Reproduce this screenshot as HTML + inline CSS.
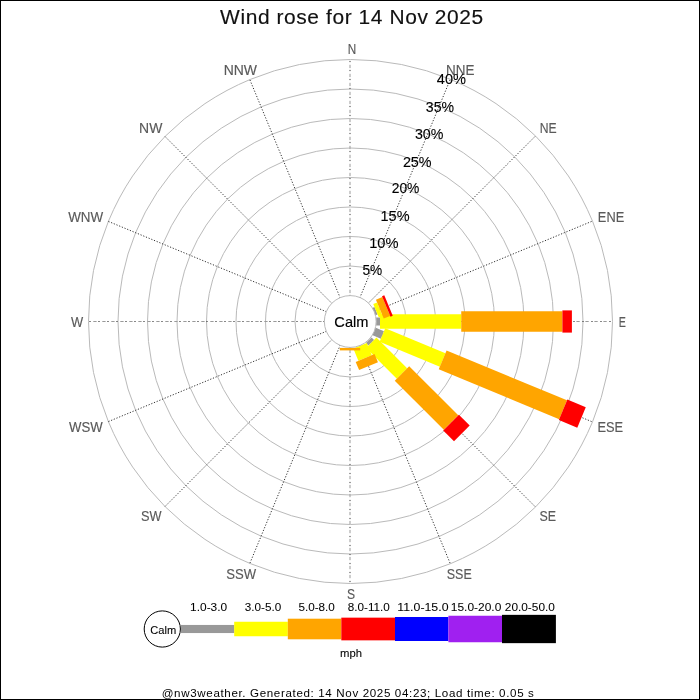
<!DOCTYPE html><html><head><meta charset="utf-8"><style>html,body{margin:0;padding:0;background:#fff;}svg{display:block;will-change:transform;}text{font-family:"Liberation Sans",sans-serif;}</style></head><body>
<svg width="700" height="700" viewBox="0 0 700 700">
<rect x="0" y="0" width="700" height="700" fill="#fff"/>
<circle cx="350.5" cy="321.5" r="55.50" fill="none" stroke="#bababa" stroke-width="1"/>
<circle cx="350.5" cy="321.5" r="85.00" fill="none" stroke="#bababa" stroke-width="1"/>
<circle cx="350.5" cy="321.5" r="114.50" fill="none" stroke="#bababa" stroke-width="1"/>
<circle cx="350.5" cy="321.5" r="144.00" fill="none" stroke="#bababa" stroke-width="1"/>
<circle cx="350.5" cy="321.5" r="173.50" fill="none" stroke="#bababa" stroke-width="1"/>
<circle cx="350.5" cy="321.5" r="203.00" fill="none" stroke="#bababa" stroke-width="1"/>
<circle cx="350.5" cy="321.5" r="232.50" fill="none" stroke="#bababa" stroke-width="1"/>
<circle cx="350.5" cy="321.5" r="262.00" fill="none" stroke="#bababa" stroke-width="1"/>
<line x1="350.00" y1="296.10" x2="350.00" y2="59.50" stroke="#383838" stroke-width="1" stroke-dasharray="1.2 7.8"/>
<line x1="350.00" y1="296.10" x2="350.00" y2="59.50" stroke="#9a9a9a" stroke-width="1" stroke-dasharray="3.3 5.7" stroke-dashoffset="-3"/>
<line x1="359.72" y1="298.03" x2="450.26" y2="79.44" stroke="#333" stroke-width="1" stroke-dasharray="1.2 1.7"/>
<line x1="367.96" y1="303.54" x2="535.26" y2="136.24" stroke="#333" stroke-width="1" stroke-dasharray="1.2 1.7"/>
<line x1="373.47" y1="311.78" x2="592.06" y2="221.24" stroke="#333" stroke-width="1" stroke-dasharray="1.2 1.7"/>
<line x1="375.40" y1="321.50" x2="612.00" y2="321.50" stroke="#383838" stroke-width="1" stroke-dasharray="1.2 7.8"/>
<line x1="375.40" y1="321.50" x2="612.00" y2="321.50" stroke="#9a9a9a" stroke-width="1" stroke-dasharray="3.3 5.7" stroke-dashoffset="-3"/>
<line x1="373.47" y1="331.22" x2="592.06" y2="421.76" stroke="#333" stroke-width="1" stroke-dasharray="1.2 1.7"/>
<line x1="367.96" y1="339.46" x2="535.26" y2="506.76" stroke="#333" stroke-width="1" stroke-dasharray="1.2 1.7"/>
<line x1="359.72" y1="344.97" x2="450.26" y2="563.56" stroke="#333" stroke-width="1" stroke-dasharray="1.2 1.7"/>
<line x1="350.00" y1="346.90" x2="350.00" y2="583.50" stroke="#383838" stroke-width="1" stroke-dasharray="1.2 7.8"/>
<line x1="350.00" y1="346.90" x2="350.00" y2="583.50" stroke="#9a9a9a" stroke-width="1" stroke-dasharray="3.3 5.7" stroke-dashoffset="-3"/>
<line x1="340.28" y1="344.97" x2="249.74" y2="563.56" stroke="#333" stroke-width="1" stroke-dasharray="1.2 1.7"/>
<line x1="332.04" y1="339.46" x2="164.74" y2="506.76" stroke="#333" stroke-width="1" stroke-dasharray="1.2 1.7"/>
<line x1="326.53" y1="331.22" x2="107.94" y2="421.76" stroke="#333" stroke-width="1" stroke-dasharray="1.2 1.7"/>
<line x1="324.60" y1="321.50" x2="88.00" y2="321.50" stroke="#383838" stroke-width="1" stroke-dasharray="1.2 7.8"/>
<line x1="324.60" y1="321.50" x2="88.00" y2="321.50" stroke="#9a9a9a" stroke-width="1" stroke-dasharray="3.3 5.7" stroke-dashoffset="-3"/>
<line x1="326.53" y1="311.78" x2="107.94" y2="221.24" stroke="#333" stroke-width="1" stroke-dasharray="1.2 1.7"/>
<line x1="332.04" y1="303.54" x2="164.74" y2="136.24" stroke="#333" stroke-width="1" stroke-dasharray="1.2 1.7"/>
<line x1="340.28" y1="298.03" x2="249.74" y2="79.44" stroke="#333" stroke-width="1" stroke-dasharray="1.2 1.7"/>
<polygon points="376.10,317.50 380.00,317.50 380.00,325.50 376.10,325.50" fill="#999999"/>
<polygon points="380.00,314.20 461.25,314.20 461.25,328.80 380.00,328.80" fill="#ffff00"/>
<polygon points="461.25,311.30 562.40,311.30 562.40,331.70 461.25,331.70" fill="#ffa500"/>
<polygon points="562.40,310.40 571.90,310.40 571.90,332.60 562.40,332.60" fill="#ff0000"/>
<polygon points="372.31,307.93 374.52,307.01 377.58,314.40 375.37,315.32" fill="#999999"/>
<polygon points="373.26,303.96 377.05,302.40 382.63,315.88 378.85,317.45" fill="#ffff00"/>
<polygon points="375.94,299.72 382.36,297.06 390.17,315.90 383.74,318.56" fill="#ffa500"/>
<polygon points="382.01,296.22 384.28,295.29 392.77,315.80 390.51,316.73" fill="#ff0000"/>
<polygon points="375.18,327.60 383.96,331.24 380.90,338.63 372.12,334.99" fill="#999999"/>
<polygon points="385.22,328.19 445.46,353.14 439.87,366.63 379.63,341.68" fill="#ffff00"/>
<polygon points="446.57,350.46 567.00,400.34 559.19,419.19 438.76,369.31" fill="#ffa500"/>
<polygon points="567.34,399.51 585.77,407.15 577.28,427.66 558.85,420.02" fill="#ff0000"/>
<polygon points="371.57,337.41 374.11,339.96 368.46,345.61 365.91,343.07" fill="#999999"/>
<polygon points="376.45,337.62 407.13,368.31 396.81,378.63 366.12,347.95" fill="#ffff00"/>
<polygon points="409.18,366.26 458.26,415.33 443.83,429.76 394.76,380.68" fill="#ffa500"/>
<polygon points="458.89,414.70 469.71,425.52 454.02,441.21 443.20,430.39" fill="#ff0000"/>
<polygon points="366.81,343.00 371.86,355.20 358.37,360.79 353.32,348.59" fill="#ffff00"/>
<polygon points="374.54,354.09 377.95,362.31 359.10,370.12 355.69,361.90" fill="#ffa500"/>
<polygon points="360.20,347.90 360.20,350.40 339.80,350.40 339.80,347.90" fill="#ffa500"/>
<circle cx="350.25" cy="321.5" r="25.9" fill="#fff" stroke="#bababa" stroke-width="1"/>
<circle cx="162.3" cy="629" r="18.1" fill="#fff" stroke="#000" stroke-width="1"/>
<rect x="181" y="624.95" width="53.30" height="8.1" fill="#999999"/>
<rect x="234.2" y="621.75" width="53.60" height="14.5" fill="#ffff00"/>
<rect x="287.8" y="618.70" width="53.40" height="20.6" fill="#ffa500"/>
<rect x="341.3" y="617.65" width="53.70" height="22.7" fill="#ff0000"/>
<rect x="395.0" y="617.00" width="53.40" height="24.0" fill="#0000ff"/>
<rect x="448.4" y="615.75" width="53.60" height="26.5" fill="#a020f0"/>
<rect x="502.0" y="614.85" width="53.90" height="28.3" fill="#000000"/>
<text x="220.10" y="24.00" font-size="20.94" fill="#111" stroke="#111" stroke-width="0.15" textLength="263.07" lengthAdjust="spacing">Wind rose for 14 Nov 2025</text>
<text x="347.85" y="54.00" font-size="13.96" fill="#5a5a5a" stroke="#5a5a5a" stroke-width="0.15" textLength="8.46" lengthAdjust="spacingAndGlyphs">N</text>
<text x="446.10" y="74.70" font-size="13.96" fill="#5a5a5a" stroke="#5a5a5a" stroke-width="0.15" textLength="28.44" lengthAdjust="spacingAndGlyphs">NNE</text>
<text x="539.80" y="132.60" font-size="13.96" fill="#5a5a5a" stroke="#5a5a5a" stroke-width="0.15" textLength="16.92" lengthAdjust="spacingAndGlyphs">NE</text>
<text x="597.85" y="221.80" font-size="13.96" fill="#5a5a5a" stroke="#5a5a5a" stroke-width="0.15" textLength="26.35" lengthAdjust="spacingAndGlyphs">ENE</text>
<text x="618.80" y="327.00" font-size="13.96" fill="#5a5a5a" stroke="#5a5a5a" stroke-width="0.15" textLength="7.13" lengthAdjust="spacingAndGlyphs">E</text>
<text x="597.50" y="432.00" font-size="13.96" fill="#5a5a5a" stroke="#5a5a5a" stroke-width="0.15" textLength="25.65" lengthAdjust="spacingAndGlyphs">ESE</text>
<text x="539.60" y="521.00" font-size="13.96" fill="#5a5a5a" stroke="#5a5a5a" stroke-width="0.15" textLength="16.56" lengthAdjust="spacingAndGlyphs">SE</text>
<text x="446.80" y="579.00" font-size="13.96" fill="#5a5a5a" stroke="#5a5a5a" stroke-width="0.15" textLength="24.96" lengthAdjust="spacingAndGlyphs">SSE</text>
<text x="347.00" y="599.00" font-size="13.96" fill="#5a5a5a" stroke="#5a5a5a" stroke-width="0.15" textLength="8.07" lengthAdjust="spacingAndGlyphs">S</text>
<text x="226.20" y="579.20" font-size="13.96" fill="#5a5a5a" stroke="#5a5a5a" stroke-width="0.15" textLength="29.83" lengthAdjust="spacingAndGlyphs">SSW</text>
<text x="141.00" y="521.00" font-size="13.96" fill="#5a5a5a" stroke="#5a5a5a" stroke-width="0.15" textLength="20.53" lengthAdjust="spacingAndGlyphs">SW</text>
<text x="69.00" y="432.00" font-size="13.96" fill="#5a5a5a" stroke="#5a5a5a" stroke-width="0.15" textLength="33.68" lengthAdjust="spacingAndGlyphs">WSW</text>
<text x="70.90" y="326.90" font-size="13.96" fill="#5a5a5a" stroke="#5a5a5a" stroke-width="0.15" textLength="12.16" lengthAdjust="spacingAndGlyphs">W</text>
<text x="68.15" y="222.20" font-size="13.96" fill="#5a5a5a" stroke="#5a5a5a" stroke-width="0.15" textLength="34.96" lengthAdjust="spacingAndGlyphs">WNW</text>
<text x="139.10" y="133.30" font-size="13.96" fill="#5a5a5a" stroke="#5a5a5a" stroke-width="0.15" textLength="23.25" lengthAdjust="spacingAndGlyphs">NW</text>
<text x="223.70" y="75.10" font-size="13.96" fill="#5a5a5a" stroke="#5a5a5a" stroke-width="0.15" textLength="33.35" lengthAdjust="spacingAndGlyphs">NNW</text>
<text x="362.40" y="275.30" font-size="13.82" fill="#000" stroke="#000" stroke-width="0.1" textLength="19.77" lengthAdjust="spacingAndGlyphs">5%</text>
<text x="369.15" y="248.00" font-size="13.82" fill="#000" stroke="#000" stroke-width="0.1" textLength="29.33" lengthAdjust="spacingAndGlyphs">10%</text>
<text x="380.55" y="221.30" font-size="13.82" fill="#000" stroke="#000" stroke-width="0.1" textLength="28.96" lengthAdjust="spacingAndGlyphs">15%</text>
<text x="391.70" y="193.20" font-size="13.82" fill="#000" stroke="#000" stroke-width="0.1" textLength="27.68" lengthAdjust="spacingAndGlyphs">20%</text>
<text x="402.90" y="166.70" font-size="13.82" fill="#000" stroke="#000" stroke-width="0.1" textLength="28.70" lengthAdjust="spacingAndGlyphs">25%</text>
<text x="414.90" y="138.90" font-size="13.82" fill="#000" stroke="#000" stroke-width="0.1" textLength="28.48" lengthAdjust="spacingAndGlyphs">30%</text>
<text x="425.85" y="112.10" font-size="13.82" fill="#000" stroke="#000" stroke-width="0.1" textLength="28.20" lengthAdjust="spacingAndGlyphs">35%</text>
<text x="436.80" y="84.30" font-size="13.82" fill="#000" stroke="#000" stroke-width="0.1" textLength="29.13" lengthAdjust="spacingAndGlyphs">40%</text>
<text x="334.35" y="326.80" font-size="13.96" fill="#000" stroke="#000" stroke-width="0.15" textLength="34.10" lengthAdjust="spacingAndGlyphs">Calm</text>
<text x="190.10" y="611.10" font-size="10.40" fill="#000" stroke="#000" stroke-width="0.05" textLength="37.04" lengthAdjust="spacingAndGlyphs">1.0-3.0</text>
<text x="244.80" y="611.10" font-size="10.40" fill="#000" stroke="#000" stroke-width="0.05" textLength="36.42" lengthAdjust="spacingAndGlyphs">3.0-5.0</text>
<text x="298.40" y="611.10" font-size="10.40" fill="#000" stroke="#000" stroke-width="0.05" textLength="36.40" lengthAdjust="spacingAndGlyphs">5.0-8.0</text>
<text x="347.75" y="611.10" font-size="10.40" fill="#000" stroke="#000" stroke-width="0.05" textLength="42.02" lengthAdjust="spacingAndGlyphs">8.0-11.0</text>
<text x="397.30" y="611.10" font-size="10.40" fill="#000" stroke="#000" stroke-width="0.05" textLength="51.20" lengthAdjust="spacingAndGlyphs">11.0-15.0</text>
<text x="450.85" y="611.10" font-size="10.40" fill="#000" stroke="#000" stroke-width="0.05" textLength="50.45" lengthAdjust="spacingAndGlyphs">15.0-20.0</text>
<text x="504.80" y="611.10" font-size="10.40" fill="#000" stroke="#000" stroke-width="0.05" textLength="50.11" lengthAdjust="spacingAndGlyphs">20.0-50.0</text>
<text x="150.25" y="633.60" font-size="10.75" fill="#000" stroke="#000" stroke-width="0.08" textLength="25.96" lengthAdjust="spacingAndGlyphs">Calm</text>
<text x="340.05" y="657.40" font-size="11.17" fill="#000" stroke="#000" stroke-width="0.08" textLength="21.95" lengthAdjust="spacingAndGlyphs">mph</text>
<text x="161.70" y="696.60" font-size="11.59" fill="#000" stroke="#000" stroke-width="0.0" textLength="372.17" lengthAdjust="spacing">@nw3weather. Generated: 14 Nov 2025 04:23; Load time: 0.05 s</text>
<rect x="0.5" y="0.5" width="699" height="699" fill="none" stroke="#000" stroke-width="1"/>
</svg></body></html>
